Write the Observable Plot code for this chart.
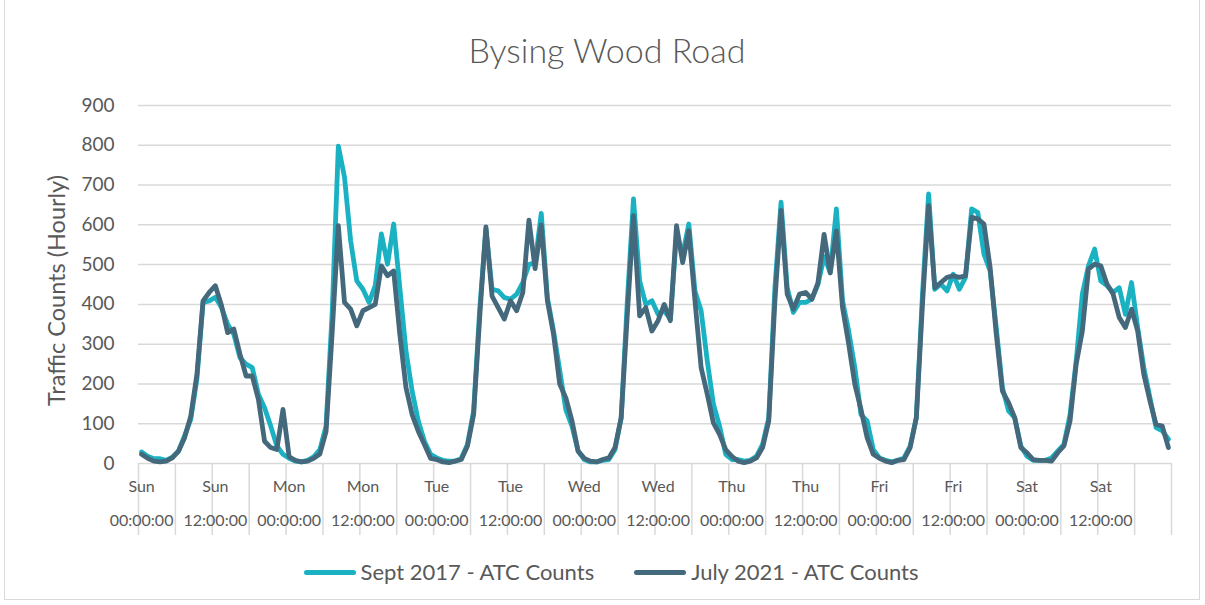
<!DOCTYPE html>
<html>
<head>
<meta charset="utf-8">
<script src="https://cdn.jsdelivr.net/npm/d3@7"></script>
<script src="https://cdn.jsdelivr.net/npm/@observablehq/plot@0.6"></script>
<style>
  html, body { margin: 0; padding: 0; background: #fff; }
  #wrap { position: relative; width: 1205px; height: 605px; overflow: hidden; font-family: Lato, "Open Sans", sans-serif; color: #595959; }
  #frame { position: absolute; left: 4px; top: -1px; width: 1196px; height: 601px; border: 1px solid #d9d9d9; box-sizing: border-box; }
  #title { position: absolute; left: 0; width: 1214px; top: 29px; text-align: center; font-size: 34px; font-weight: 300; line-height: 42px; }
  #chart { position: absolute; left: 0; top: 80px; }
  #legend { position: absolute; left: 0; width: 1222px; top: 557px; display: flex; justify-content: center; align-items: center; font-size: 22px; line-height: 30px; }
  .item { display: flex; align-items: center; margin: 0 20px; }
  .sw { width: 52px; height: 5px; border-radius: 3px; margin-right: 5px; }
</style>
</head>
<body>
<div id="wrap">
  <div id="frame"></div>
  <div id="title">Bysing Wood Road</div>
  <div id="chart"></div>
  <div id="legend"></div>
</div>
<script>
// Series names
const seriesNames = ["Sept 2017 - ATC Counts", "July 2021 - ATC Counts"];
const seriesColors = ["#1AB1C3", "#44697C"];

// Hourly counts, Sunday 00:00 to Saturday 23:00 (168 hours)
const sept2017 = [
  29,18,12,12,8,16,31,70,111,212,405,409,418,392,350,325,266,250,241,174,140,94,44,23,
  13,6,4,8,17,35,94,380,798,720,560,459,438,405,447,577,501,602,442,283,182,107,56,23,
  14,8,6,6,13,48,132,390,590,438,434,417,413,426,455,500,505,629,417,333,235,135,94,31,
  10,4,4,8,10,35,115,409,665,459,400,409,375,384,363,577,526,602,434,384,258,149,94,23,
  10,10,6,8,18,48,115,442,657,442,380,405,405,413,450,520,480,640,409,333,241,123,107,35,
  14,8,4,8,14,44,115,426,678,438,451,434,476,438,468,640,631,526,484,342,191,132,115,44,
  18,8,8,8,14,31,48,123,258,426,497,539,459,447,430,442,375,455,342,241,165,90,82,61
];
const july2021 = [
  23,13,6,4,6,14,31,65,119,224,409,430,447,397,329,338,275,220,220,161,56,40,35,136,
  17,8,4,6,13,24,80,330,598,405,388,346,384,392,400,497,472,484,325,191,123,81,48,13,
  10,4,2,6,10,44,123,370,595,421,392,363,409,384,430,612,490,600,409,325,200,165,107,31,
  13,6,4,10,14,40,115,375,623,371,392,333,359,400,359,598,505,585,409,241,174,102,73,35,
  18,6,2,6,14,40,107,409,636,426,388,426,430,413,454,576,479,585,392,300,199,136,65,23,
  13,6,2,8,10,40,115,400,648,442,455,468,472,468,472,619,615,602,493,325,182,153,115,40,
  27,10,8,8,6,27,44,107,250,333,489,501,497,451,426,367,342,388,333,224,157,98,94,40
];

// Axis tick labels (every 12 hours)
const dayLabels = ["Sun","Sun","Mon","Mon","Tue","Tue","Wed","Wed","Thu","Thu","Fri","Fri","Sat","Sat"];
const timeLabels = ["00:00:00","12:00:00","00:00:00","12:00:00","00:00:00","12:00:00","00:00:00","12:00:00","00:00:00","12:00:00","00:00:00","12:00:00","00:00:00","12:00:00"];
const yTicks = [0,100,200,300,400,500,600,700,800,900];
const yTitle = "Traffic Counts (Hourly)";

// Build table: each hour is a category centred at hour + 0.5
const rows = [];
sept2017.forEach((v, i) => rows.push({x: i + 0.5, v, s: seriesNames[0]}));
july2021.forEach((v, i) => rows.push({x: i + 0.5, v, s: seriesNames[1]}));

const labelPos = dayLabels.map((d, i) => i * 12 + 0.5);
const boundaries = d3.range(0, sept2017.length + 1, 6);

const chart = Plot.plot({
  width: 1205,
  height: 463,
  marginTop: 25,
  marginBottom: 80,
  marginLeft: 138,
  marginRight: 34,
  style: {fontFamily: "Lato, 'Open Sans', sans-serif", color: "#595959", background: "transparent", overflow: "visible"},
  x: {domain: [0, 168]},
  y: {domain: [0, 900]},
  color: {domain: seriesNames, range: seriesColors},
  marks: [
    Plot.gridY(yTicks, {stroke: "#d9d9d9", strokeOpacity: 1, strokeWidth: 1.5}),
    Plot.axisY(yTicks, {tickSize: 0, tickPadding: 24, fontSize: 19, label: null, tickFormat: d => String(d)}),
    Plot.axisX(boundaries, {tickSize: 72, stroke: "#d9d9d9", strokeOpacity: 1, strokeWidth: 1.5, tickFormat: () => "", label: null}),
    Plot.axisX(labelPos, {tickSize: 0, tickPadding: 17, fontSize: 16, label: null, tickFormat: (d, i) => dayLabels[i]}),
    Plot.axisX(labelPos, {tickSize: 0, tickPadding: 51, fontSize: 16, label: null, tickFormat: (d, i) => timeLabels[i]}),
    Plot.text([yTitle], {frameAnchor: "left", dx: -81, dy: 6, rotate: -90, textAnchor: "middle", fontSize: 23.5, fill: "#595959"}),
    Plot.line(rows, {x: "x", y: "v", z: "s", stroke: "s", strokeWidth: 4.8, strokeLinejoin: "round", strokeLinecap: "round"})
  ]
});
document.getElementById("chart").appendChild(chart);

const legend = document.getElementById("legend");
seriesNames.forEach((name, i) => {
  const item = document.createElement("div");
  item.className = "item";
  const sw = document.createElement("div");
  sw.className = "sw";
  sw.style.background = seriesColors[i];
  const t = document.createElement("span");
  t.textContent = name;
  item.appendChild(sw);
  item.appendChild(t);
  legend.appendChild(item);
});
</script>
</body>
</html>
